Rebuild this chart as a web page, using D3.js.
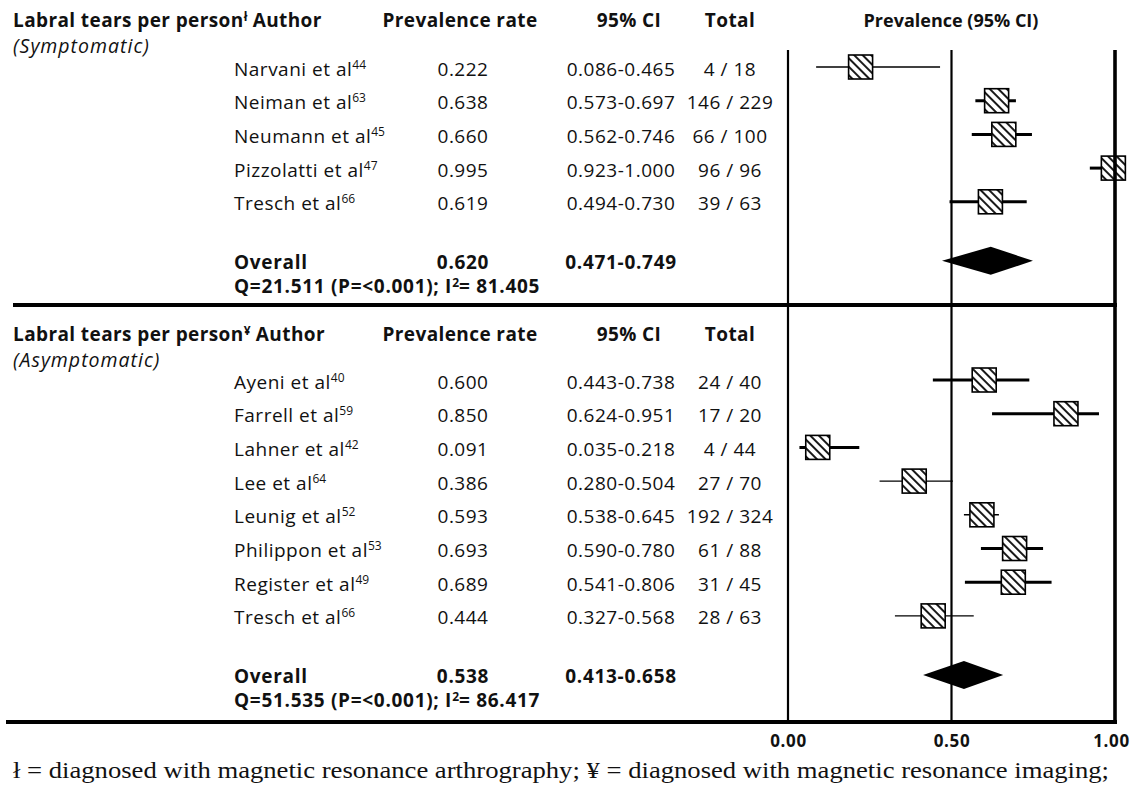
<!DOCTYPE html>
<html lang="en">
<head>
    <meta charset="UTF-8">
    <title>Labral tears per person - forest plot</title>
    <script src="https://d3js.org/d3.v7.min.js"></script>
    <style>
        body {
            margin: 0;
            background: #fff;
        }
        svg text {
            font-family: 'Open Sans', sans-serif;
            fill: #111;
        }
        .hdr { font-weight: bold; font-size: 19px; letter-spacing: 0.4px; }
        .plot-hdr { font-size: 18px; letter-spacing: 0; }
        .cell { font-size: 19px; letter-spacing: 0.5px; }
        .grp { font-size: 19.5px; font-style: italic; letter-spacing: 1px; }
        .sum { font-weight: bold; font-size: 19px; letter-spacing: 0.7px; }
        .sup { font-size: 12px; letter-spacing: 0; }
        .axis text { font-weight: bold; font-size: 17px; letter-spacing: 0.6px; font-family: 'Open Sans', sans-serif; }
        .note { font-family: 'Liberation Serif', serif; font-size: 24px; }
    </style>
</head>
<body>
    <svg id="chart" width="1137" height="787"></svg>

    <script>
        // symptomatic group (MR arthrography)
        const symAuthors = ["Narvani et al", "Neiman et al", "Neumann et al", "Pizzolatti et al", "Tresch et al"];
        const symRefs = ["44", "63", "45", "47", "66"];
        const symRate = [0.222, 0.638, 0.660, 0.995, 0.619];
        const symLo = [0.086, 0.573, 0.562, 0.923, 0.494];
        const symHi = [0.465, 0.697, 0.746, 1.000, 0.730];
        const symEvents = [4, 146, 66, 96, 39];
        const symTotal = [18, 229, 100, 96, 63];
        const symOverall = [0.620, 0.471, 0.749];
        const symHet = ["21.511", "81.405"];

        // asymptomatic group (MRI)
        const asyAuthors = ["Ayeni et al", "Farrell et al", "Lahner et al", "Lee et al", "Leunig et al", "Philippon et al", "Register et al", "Tresch et al"];
        const asyRefs = ["40", "59", "42", "64", "52", "53", "49", "66"];
        const asyRate = [0.600, 0.850, 0.091, 0.386, 0.593, 0.693, 0.689, 0.444];
        const asyLo = [0.443, 0.624, 0.035, 0.280, 0.538, 0.590, 0.541, 0.327];
        const asyHi = [0.738, 0.951, 0.218, 0.504, 0.645, 0.780, 0.806, 0.568];
        const asyEvents = [24, 17, 4, 27, 192, 61, 31, 28];
        const asyTotal = [40, 20, 44, 70, 324, 88, 45, 63];
        const asyOverall = [0.538, 0.413, 0.658];
        const asyHet = ["51.535", "86.417"];

        const xTicks = [0, 0.5, 1];

        // whiskers drawn with the thin pen in the original
        const thinWhiskers = { sym: [0], asy: [3, 4, 7] };

        const sections = [
            { key: "sym", mark: "ł", label: "(Symptomatic)", authors: symAuthors, refs: symRefs, rate: symRate, lo: symLo, hi: symHi, ev: symEvents, tot: symTotal, overall: symOverall, het: symHet, top: 0, y0: 67 },
            { key: "asy", mark: "¥", label: "(Asymptomatic)", authors: asyAuthors, refs: asyRefs, rate: asyRate, lo: asyLo, hi: asyHi, ev: asyEvents, tot: asyTotal, overall: asyOverall, het: asyHet, top: 314, y0: 380 }
        ];

        const svg = d3.select("#chart");
        const x = d3.scaleLinear().domain([0, 1]).range([788, 1115]);
        const rowStep = 33.7;
        const f3 = d3.format(".3f");

        const defs = svg.append("defs");
        const pat = defs.append("pattern")
            .attr("id", "hatch")
            .attr("width", 6).attr("height", 6)
            .attr("patternUnits", "userSpaceOnUse")
            .attr("patternTransform", "rotate(-45)");
        pat.append("rect").attr("width", 6).attr("height", 6).attr("fill", "#fff");
        pat.append("line").attr("x1", 1).attr("y1", 0).attr("x2", 1).attr("y2", 6)
            .attr("stroke", "#000").attr("stroke-width", 1.8);

        const boxSize = 24;

        sections.forEach(s => {
            const y = d3.scaleLinear().domain([0, 1]).range([s.y0, s.y0 + rowStep]);
            const g = svg.append("g");

            // headers
            const h = g.append("text").attr("class", "hdr").attr("x", 13).attr("y", s.top + 27);
            h.append("tspan").text("Labral tears per person");
            h.append("tspan").attr("class", "sup").attr("dy", -6).text(s.mark);
            h.append("tspan").attr("dy", 6).text(" Author");
            g.append("text").attr("class", "hdr").attr("x", 460).attr("y", s.top + 27).attr("text-anchor", "middle").text("Prevalence rate");
            g.append("text").attr("class", "hdr").attr("x", 629).attr("y", s.top + 27).attr("text-anchor", "middle").text("95% CI");
            g.append("text").attr("class", "hdr").attr("x", 730).attr("y", s.top + 27).attr("text-anchor", "middle").text("Total");
            if (s.key === "sym") {
                g.append("text").attr("class", "hdr plot-hdr").attr("x", 951).attr("y", 27).attr("text-anchor", "middle").text("Prevalence (95% CI)");
            }
            g.append("text").attr("class", "grp").attr("x", 13).attr("y", s.top + 53).text(s.label);

            const rows = s.authors.map((a, i) => ({ i, a, ref: s.refs[i], rate: s.rate[i], lo: s.lo[i], hi: s.hi[i], ev: s.ev[i], tot: s.tot[i] }));

            const rg = g.selectAll(".row").data(rows).join("g").attr("class", "row");
            const name = rg.append("text").attr("class", "cell").attr("x", 234).attr("y", d => y(d.i) + 8.5);
            name.append("tspan").text(d => d.a);
            name.append("tspan").attr("class", "sup").attr("dy", -7).text(d => d.ref);
            rg.append("text").attr("class", "cell").attr("x", 463).attr("y", d => y(d.i) + 8.5)
                .attr("text-anchor", "middle").text(d => f3(d.rate));
            rg.append("text").attr("class", "cell").attr("x", 621).attr("y", d => y(d.i) + 8.5)
                .attr("text-anchor", "middle").text(d => f3(d.lo) + "-" + f3(d.hi));
            rg.append("text").attr("class", "cell").attr("x", 730).attr("y", d => y(d.i) + 8.5)
                .attr("text-anchor", "middle").text(d => d.ev + " / " + d.tot);

            // whiskers and boxes
            rg.append("line")
                .attr("x1", d => x(d.lo)).attr("x2", d => x(d.hi))
                .attr("y1", d => y(d.i)).attr("y2", d => y(d.i))
                .attr("stroke", "#000")
                .attr("stroke-width", d => thinWhiskers[s.key].includes(d.i) ? 1.4 : 3);
            rg.append("rect")
                .attr("x", d => x(d.rate) - boxSize / 2).attr("y", d => y(d.i) - boxSize / 2)
                .attr("width", boxSize).attr("height", boxSize)
                .attr("fill", "url(#hatch)").attr("stroke", "#000").attr("stroke-width", 1.6);

            // overall
            const oy = y(s.authors.length + 0.75);
            g.append("text").attr("class", "sum").attr("x", 234).attr("y", oy + 8).text("Overall");
            g.append("text").attr("class", "sum").attr("x", 463).attr("y", oy + 8).attr("text-anchor", "middle").text(f3(s.overall[0]));
            g.append("text").attr("class", "sum").attr("x", 621).attr("y", oy + 8).attr("text-anchor", "middle").text(f3(s.overall[1]) + "-" + f3(s.overall[2]));
            const q = g.append("text").attr("class", "sum").attr("x", 234).attr("y", oy + 32);
            q.append("tspan").text("Q=" + s.het[0] + " (P=<0.001); I");
            q.append("tspan").attr("class", "sup").attr("dy", -6).text("2");
            q.append("tspan").attr("dy", 6).text("= " + s.het[1]);

            const [est, lo, hi] = s.overall;
            g.append("path")
                .attr("d", d3.line()([[x(lo), oy], [x(est), oy - 14], [x(hi), oy], [x(est), oy + 14]]) + "Z")
                .attr("fill", "#000");
        });

        // frame lines
        const lines = svg.append("g").attr("stroke", "#000");
        lines.append("line").attr("x1", x(0)).attr("x2", x(0)).attr("y1", 50).attr("y2", 722).attr("stroke-width", 2.2);
        lines.append("line").attr("x1", x(0.5)).attr("x2", x(0.5)).attr("y1", 50).attr("y2", 722).attr("stroke-width", 2.2);
        lines.append("line").attr("x1", x(1)).attr("x2", x(1)).attr("y1", 50).attr("y2", 722).attr("stroke-width", 3.6);
        lines.append("line").attr("x1", 13).attr("x2", x(1) + 2).attr("y1", 305).attr("y2", 305).attr("stroke-width", 4);
        lines.append("line").attr("x1", 6).attr("x2", x(1) + 2).attr("y1", 722).attr("y2", 722).attr("stroke-width", 4);

        // axis
        const axis = svg.append("g").attr("class", "axis")
            .attr("transform", "translate(0,732)")
            .call(d3.axisBottom(x).tickValues(xTicks).tickFormat(d3.format(".2f")).tickSize(0));
        axis.select(".domain").remove();
        axis.selectAll("text").attr("fill", "#111");
        axis.selectAll(".tick").filter(d => d === 1).select("text").attr("dx", -4);

        svg.append("text").attr("class", "note").attr("x", 13).attr("y", 778)
            .attr("textLength", 1096).attr("lengthAdjust", "spacingAndGlyphs")
            .text("ł = diagnosed with magnetic  resonance arthrography; ¥ = diagnosed with magnetic resonance imaging;");
    </script>
</body>
</html>
